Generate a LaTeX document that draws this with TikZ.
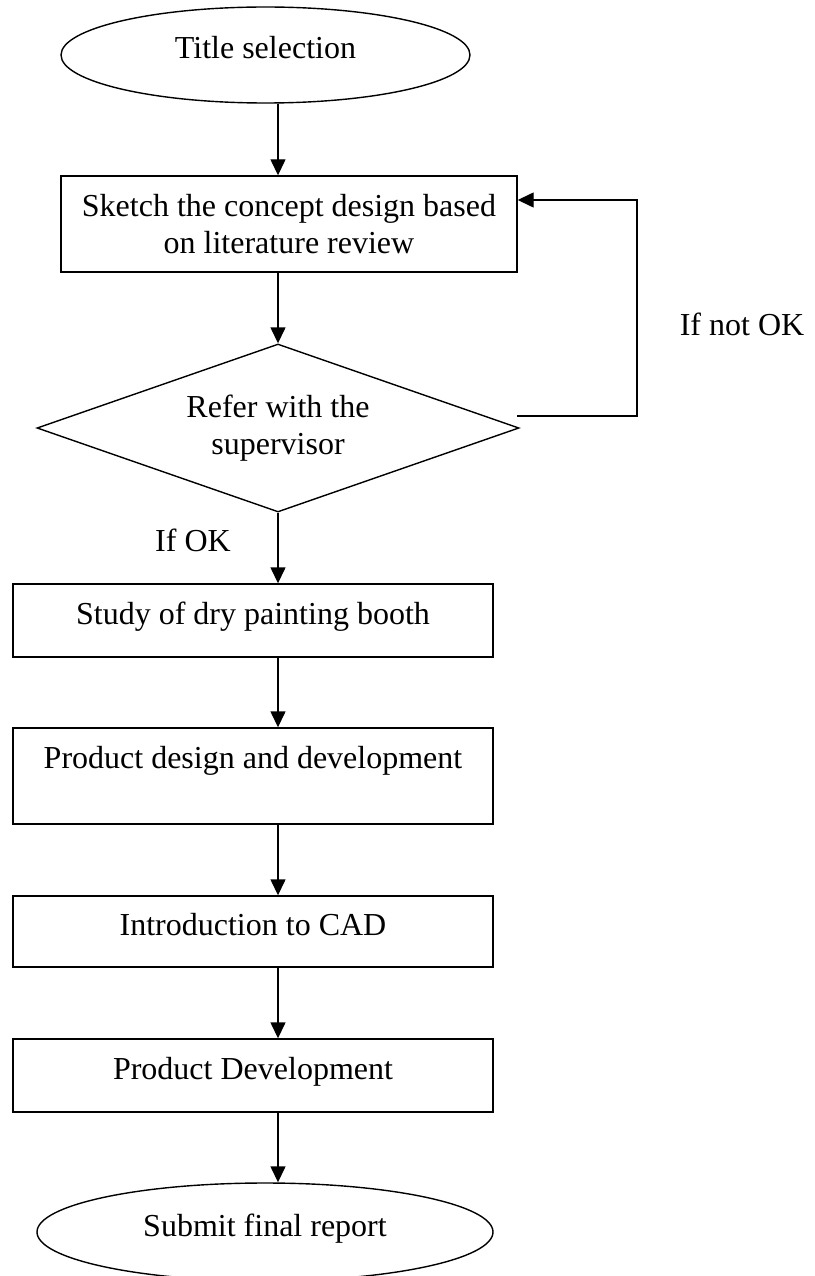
\documentclass[tikz,border=0pt]{standalone}
\usepackage{fontspec}
\setmainfont{Liberation Serif}
\usepackage{tikz}
\usetikzlibrary{shapes.geometric}
\usetikzlibrary{arrows.meta}

\tikzset{
  every node/.style={font=\fontsize{32}{36.5}\selectfont},
  procbox/.style={draw, rectangle, inner sep=0pt, align=center},
  terminal/.style={draw, ellipse, inner sep=0pt},
  check/.style={draw, diamond, inner sep=0pt, aspect=2.87, align=center},
  oneline/.style={text height=22pt, text depth=14pt},
  caption/.style={text height=22pt, text depth=0pt, inner sep=0pt},
  flow/.style={-{Triangle[length=16pt,width=15pt]}}
}

\begin{document}
\begin{tikzpicture}[x=1pt, y=-1pt, line width=1.4pt]
        \clip (0, 0) rectangle (814, 1276);
        \node[terminal, oneline, minimum width=409pt, minimum height=96pt] (title) at (265.5, 55) {Title selection};
        \node[procbox, minimum width=456pt, minimum height=96pt] (sketch) at (289, 224) {Sketch the concept design based\\on literature review};
        \node[check, minimum width=482pt, minimum height=168pt] (refer) at (278, 428) {Refer with the\\supervisor};
        \node[procbox, oneline, minimum width=480pt, minimum height=73pt] (study) at (253, 620.5) {Study of dry painting booth};
        \node[procbox, minimum width=480pt, minimum height=96pt, text height=22pt, text depth=38pt] (design) at (253, 776) {Product design and development};
        \node[procbox, oneline, minimum width=480pt, minimum height=71pt] (cad) at (253, 931.5) {Introduction to CAD};
        \node[procbox, oneline, minimum width=480pt, minimum height=73pt] (proddev) at (253, 1075.5) {Product Development};
        \node[terminal, oneline, minimum width=456pt, minimum height=98pt] (submit) at (265, 1232) {Submit final report};
        % branch labels
        \node[caption] (ok) at (193, 540) {If OK};
        \node[caption] (notok) at (742, 324) {If not OK};
        % loop back to the sketch
        \coordinate (back) at (517, 416);
        \coordinate (loop) at (637, 200);

        \draw[flow] (title.south -| refer.north) -- (sketch.north -| refer.north);
        \draw[flow] (sketch.south -| refer.north) -- (refer.north);
        \draw[flow] (refer.south) -- (study.north -| refer.south);
        \draw[flow] (study.south -| refer.south) -- (design.north -| refer.south);
        \draw[flow] (design.south -| refer.south) -- (cad.north -| refer.south);
        \draw[flow] (cad.south -| refer.south) -- (proddev.north -| refer.south);
        \draw[flow] (proddev.south -| refer.south) -- (submit.north -| refer.south);
        \draw[flow] (back) -| (loop) -- (sketch.east |- loop);
    \end{tikzpicture}
\end{document}
